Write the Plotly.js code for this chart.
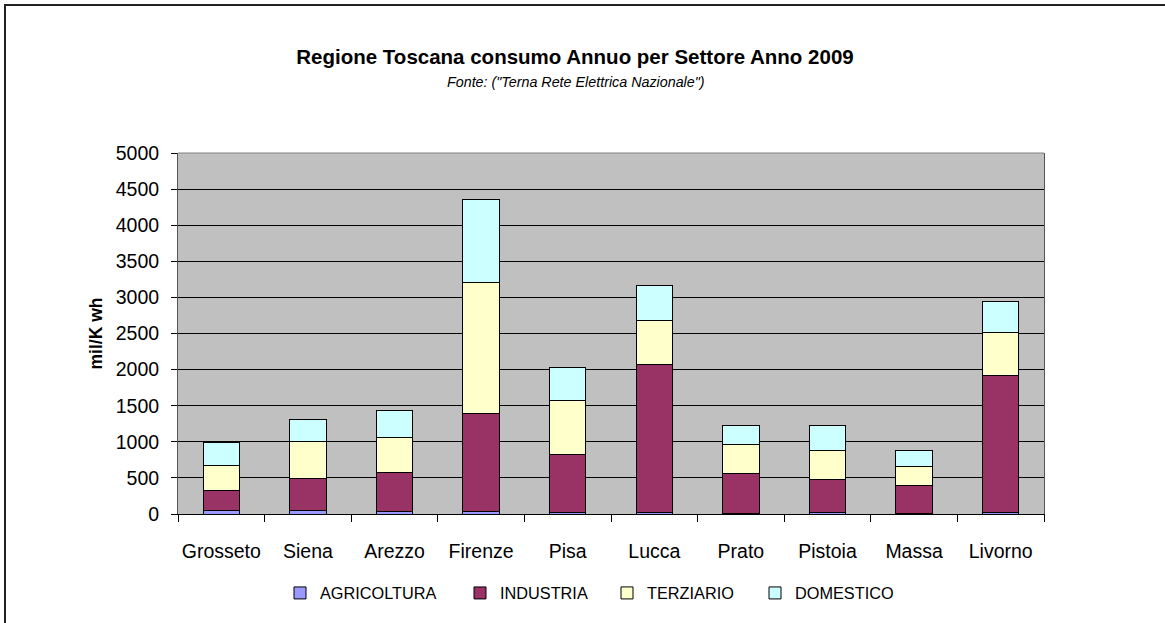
<!DOCTYPE html>
<html>
<head>
<meta charset="utf-8">
<script src="https://cdn.plot.ly/plotly-3.0.1.min.js"></script>
<style>
  html, body { margin: 0; padding: 0; background: #fff; overflow: hidden; }
  #chart { width: 1165px; height: 623px; }
  #frame { position: absolute; left: 4px; top: 4px; width: 1300px; height: 800px;
           border-left: 2px solid #222; border-top: 2px solid #222; pointer-events: none; }
</style>
</head>
<body>
<div id="chart"></div>
<div id="frame"></div>
<script>
const cities = ['Grosseto','Siena','Arezzo','Firenze','Pisa','Lucca','Prato','Pistoia','Massa','Livorno'];
const agricoltura = [55, 55, 38, 35, 20, 15, 3, 15, 3, 15];
const industria   = [273, 442, 541, 1354, 802, 2060, 553, 464, 394, 1900];
const terziario   = [347, 508, 483, 1816, 750, 608, 407, 398, 264, 599];
const domestico   = [312, 302, 368, 1153, 463, 481, 265, 353, 224, 430];
const seriesNames = ['AGRICOLTURA','INDUSTRIA','TERZIARIO','DOMESTICO'];
const yTicks = [0,500,1000,1500,2000,2500,3000,3500,4000,4500,5000];

const colors = ['#9999FF','#993366','#FFFFCC','#CCFFFF'];
const values = [agricoltura, industria, terziario, domestico];
const legendIds = ['legend','legend2','legend3','legend4'];

const traces = values.map((v, i) => ({
  type: 'bar',
  name: seriesNames[i],
  x: cities,
  y: v,
  marker: { color: colors[i], line: { color: '#000', width: 1 } },
  legend: legendIds[i],
  hoverinfo: 'x+y+name'
}));

// plot area: x 178..1044, y 153..517
const PL = 178, PR = 1044, PT = 153, PB = 517;
const px2x = p => (p - PL) / (PR - PL);
const py2y = p => (PB - p) / (PB - PT);

const legendFont = { family: 'Liberation Sans, Arial, sans-serif', size: 16.3, color: '#000' };
const legendStarts = [280, 460, 607, 755];
const mkLegend = (i) => ({
  x: px2x(legendStarts[i]), xanchor: 'left',
  y: py2y(597), yanchor: 'middle',
  orientation: 'h', font: legendFont, bgcolor: 'rgba(0,0,0,0)',
  itemwidth: 30, tracegroupgap: 0
});

const layout = {
  width: 1165, height: 623,
  margin: { l: PL, r: 1165 - PR, t: PT, b: 623 - PB, pad: 0 },
  paper_bgcolor: '#fff',
  plot_bgcolor: '#C0C0C0',
  barmode: 'stack',
  bargap: 0.58,
  font: { family: 'Liberation Sans, Arial, sans-serif', color: '#000' },
  title: {
    text: '<b>Regione Toscana consumo Annuo per Settore Anno 2009</b>',
    font: { family: 'Liberation Sans, Arial, sans-serif', size: 20.5, color: '#000' },
    xref: 'container', x: 575 / 1165, xanchor: 'center',
    yref: 'container', y: 1 - 57 / 623, yanchor: 'middle'
  },
  annotations: [{
    text: '<i>Fonte: ("Terna Rete Elettrica Nazionale")</i>',
    xref: 'paper', yref: 'paper', x: px2x(576), y: py2y(81),
    xanchor: 'center', yanchor: 'middle', showarrow: false,
    font: { family: 'Liberation Sans, Arial, sans-serif', size: 14.3, color: '#000' }
  }],
  xaxis: {
    type: 'category',
    showline: true, linecolor: '#000', linewidth: 1,
    ticks: 'outside', ticklen: 7, tickcolor: '#000', tickson: 'boundaries',
    showgrid: false, ticklabelstandoff: 20, tickangle: 0,
    tickfont: { family: 'Liberation Sans, Arial, sans-serif', size: 19.5, color: '#000' }
  },
  yaxis: {
    range: [0, 5000], tickvals: yTicks, ticktext: yTicks.map(String),
    showline: true, linecolor: '#555', linewidth: 1, mirror: true,
    ticks: 'outside', ticklen: 6, tickcolor: '#000',
    showgrid: true, gridcolor: '#000', gridwidth: 1, zeroline: false,
    ticklabelstandoff: 8,
    tickfont: { family: 'Liberation Sans, Arial, sans-serif', size: 19.5, color: '#000' },
    title: { text: '<b>mil/K wh</b>', standoff: 8,
             font: { family: 'Liberation Sans, Arial, sans-serif', size: 17.5, color: '#000' } }
  },
  shapes: [{
    type: 'line', xref: 'paper', yref: 'paper', x0: 0, x1: 1, y0: 1, y1: 1,
    line: { color: '#808080', width: 1 }
  }],
  legend: mkLegend(0), legend2: mkLegend(1), legend3: mkLegend(2), legend4: mkLegend(3),
  showlegend: true
};

Plotly.newPlot('chart', traces, layout, { displayModeBar: false, staticPlot: true });
</script>
</body>
</html>
